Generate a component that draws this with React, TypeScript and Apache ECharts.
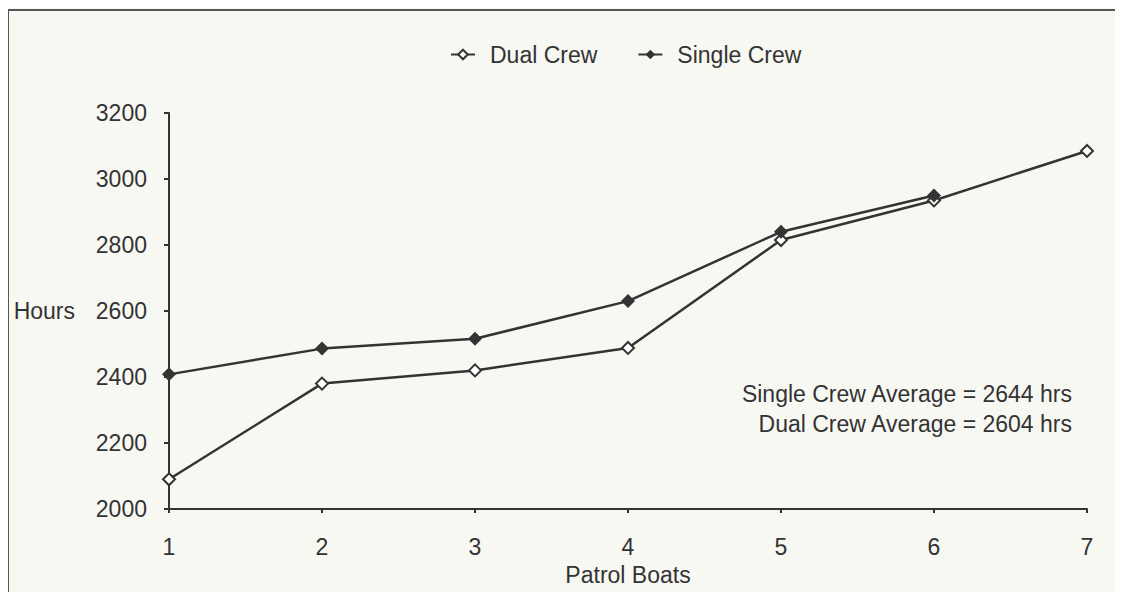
import React, { useEffect, useRef } from "react";
import * as echarts from "echarts";

const categories = ["1", "2", "3", "4", "5", "6", "7"];
const dualCrew = [2090, 2380, 2420, 2488, 2815, 2935, 3085];
const singleCrew = [2408, 2486, 2516, 2630, 2840, 2950, null];
const yTicks = { min: 2000, max: 3200, interval: 200 };
const notes = ["Single Crew Average = 2644 hrs", "Dual Crew Average = 2604 hrs"];

const FONT = "Liberation Sans";
const INK = "#333333";

export default function App() {
  const ref = useRef<HTMLDivElement>(null);
  useEffect(() => {
    if (!ref.current) return;
    const chart = echarts.init(ref.current, undefined, { renderer: "svg" });
    chart.setOption({
      animation: false,
      backgroundColor: "#f8f8f3",
      textStyle: { fontFamily: FONT, color: INK },
      legend: {
        left: 445,
        top: 38,
        itemWidth: 24,
        itemHeight: 12,
        itemGap: 40,
        textStyle: { fontFamily: FONT, fontSize: 23, color: INK, padding: [0, 0, 0, 10] },
        data: ["Dual Crew", "Single Crew"],
      },
      grid: { left: 169, right: 36, top: 113, bottom: 91 },
      xAxis: {
        type: "category",
        data: categories,
        boundaryGap: false,
        name: "Patrol Boats",
        nameLocation: "middle",
        nameGap: 54,
        nameTextStyle: { fontFamily: FONT, fontSize: 23, color: INK },
        axisLine: { lineStyle: { color: INK, width: 2 } },
        axisTick: { show: true, length: 4, lineStyle: { color: INK, width: 2 } },
        axisLabel: { fontFamily: FONT, fontSize: 23, color: INK, margin: 26 },
        splitLine: { show: false },
      },
      yAxis: {
        type: "value",
        min: yTicks.min,
        max: yTicks.max,
        interval: yTicks.interval,
        name: "Hours",
        nameLocation: "middle",
        nameRotate: 0,
        nameGap: 94,
        nameTextStyle: { fontFamily: FONT, fontSize: 23, color: INK },
        axisLine: { show: true, lineStyle: { color: INK, width: 2 } },
        axisTick: { show: true, length: 5, lineStyle: { color: INK, width: 2 } },
        axisLabel: {
          fontFamily: FONT,
          fontSize: 23,
          color: INK,
          margin: 22,
          formatter: (v: number) => String(v),
        },
        splitLine: { show: false },
      },
      graphic: [
        {
          type: "rect",
          shape: { x: 8, y: 10, width: 1108, height: 600 },
          style: { fill: "none", stroke: "#555555", lineWidth: 2 },
          silent: true,
        },
        {
          type: "text",
          x: 1072,
          y: 394,
          style: {
            text: notes[0],
            align: "right",
            verticalAlign: "middle",
            fontFamily: FONT,
            fontSize: 23,
            fill: INK,
          },
        },
        {
          type: "text",
          x: 1072,
          y: 424,
          style: {
            text: notes[1],
            align: "right",
            verticalAlign: "middle",
            fontFamily: FONT,
            fontSize: 23,
            fill: INK,
          },
        },
      ],
      series: [
        {
          name: "Dual Crew",
          type: "line",
          data: dualCrew,
          symbol: "emptyDiamond",
          symbolSize: 12,
          itemStyle: { color: INK, borderColor: INK, borderWidth: 1.5 },
          lineStyle: { color: INK, width: 2.5 },
          z: 3,
        },
        {
          name: "Single Crew",
          type: "line",
          data: singleCrew,
          symbol: "diamond",
          symbolSize: 14,
          itemStyle: { color: INK },
          lineStyle: { color: INK, width: 2.5 },
          z: 4,
        },
      ],
    });
    return () => chart.dispose();
  }, []);
  return <div ref={ref} style={{ width: 1123, height: 600, margin: -8 }} />;
}
